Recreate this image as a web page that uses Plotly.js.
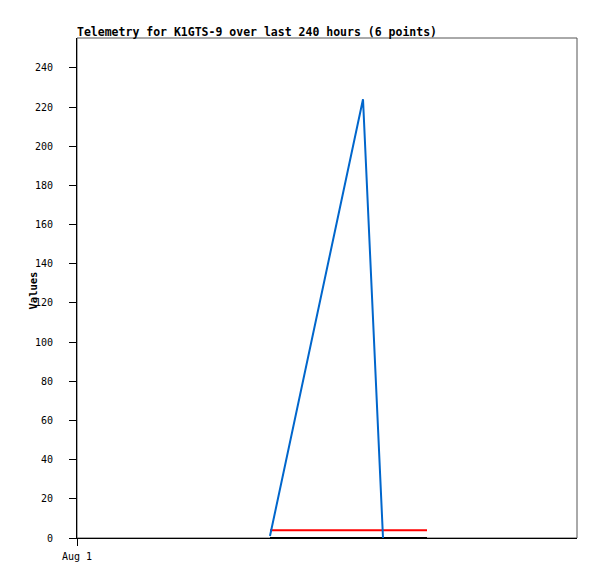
<!DOCTYPE html>
<html>
<head>
<meta charset="utf-8">
<script src="https://cdn.plot.ly/plotly-3.0.1.min.js"></script>
<style>html,body{margin:0;padding:0;background:#fff;}#chart{width:597px;height:579px;}</style>
</head>
<body>
<div id="chart"></div>
<script>
const chartTitle = "Telemetry for K1GTS-9 over last 240 hours (6 points)";
const yTitle = "Values";
const blueTimes = ["2024-08-04 20:38", "2024-08-06 17:17", "2024-08-07 02:53"];
const blueValues = [1, 224, 0];
const redTimes = ["2024-08-04 20:38", "2024-08-08 00:00"];
const redValues = [4, 4];
const blackTimes = ["2024-08-04 20:38", "2024-08-08 00:00"];
const blackValues = [0, 0];
const xRange = ["2024-08-01 00:00", "2024-08-11 00:00"];
const xTickVals = ["2024-08-01 00:00"];
const xTickText = ["Aug 1"];
const yTickVals = [0, 20, 40, 60, 80, 100, 120, 140, 160, 180, 200, 220, 240];

const mono = "DejaVu Sans Mono, monospace";
const traces = [
  {x: blackTimes, y: blackValues, mode: "lines", line: {color: "#000000", width: 2}, hoverinfo: "skip"},
  {x: redTimes, y: redValues, mode: "lines", line: {color: "#ff0000", width: 2}, hoverinfo: "skip"},
  {x: blueTimes, y: blueValues, mode: "lines", line: {color: "#0066cc", width: 2}, hoverinfo: "skip"}
];
const layout = {
  width: 597, height: 579,
  margin: {l: 77, r: 20, t: 38, b: 41, pad: 0},
  paper_bgcolor: "#ffffff", plot_bgcolor: "#ffffff",
  showlegend: false,
  font: {family: mono, size: 10, color: "#000"},
  title: {text: "<b>" + chartTitle + "</b>", x: 0, xanchor: "left", xref: "paper", y: 1, yref: "container", yanchor: "top", pad: {t: 28}, font: {family: mono, size: 11.5, color: "#000"}},
  xaxis: {
    type: "date", range: xRange, tickmode: "array", tickvals: xTickVals, ticktext: xTickText,
    showgrid: false, zeroline: false, showline: true, linecolor: "#000", linewidth: 1,
    ticks: "outside", ticklen: 7, tickcolor: "#000", tickwidth: 1, ticklabelstandoff: 2,
    tickfont: {family: mono, size: 10, color: "#000"}
  },
  yaxis: {
    range: [0, 255.3], tickmode: "array", tickvals: yTickVals,
    showgrid: false, zeroline: false, showline: true, linecolor: "#000", linewidth: 1,
    ticks: "outside", ticklen: 7, tickcolor: "#000", tickwidth: 1, ticklabelstandoff: 14,
    tickfont: {family: mono, size: 10, color: "#000"}
  },
  annotations: [
    {text: "<b>" + yTitle + "</b>", xref: "paper", yref: "paper", x: -45/500, y: 0.495, xanchor: "center", yanchor: "middle", textangle: -90, showarrow: false, font: {family: mono, size: 10.5, color: "#000"}}
  ],
  shapes: [
    {type: "rect", xref: "paper", yref: "paper", x0: 0, x1: 1, y0: 0, y1: 1, line: {color: "#555555", width: 1}, layer: "below"}
  ]
};
Plotly.newPlot("chart", traces, layout, {displayModeBar: false, staticPlot: true});
</script>
</body>
</html>
